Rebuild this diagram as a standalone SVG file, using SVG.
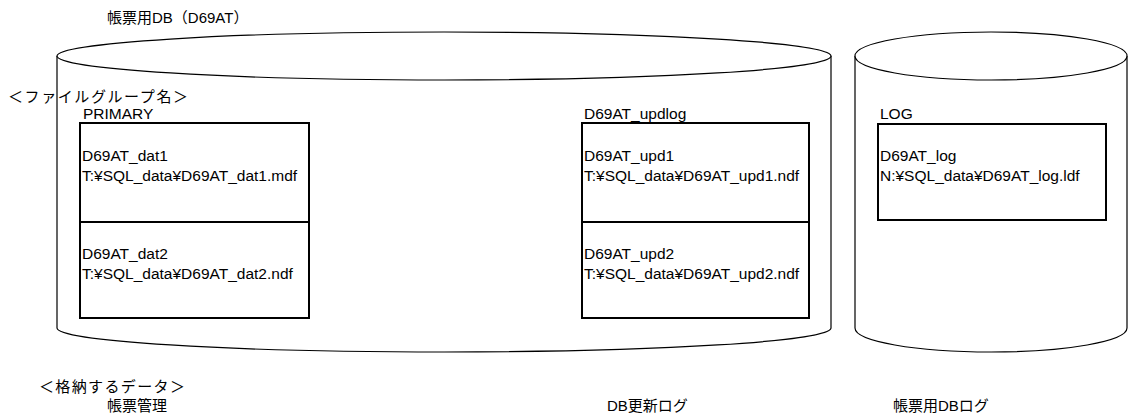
<svg xmlns="http://www.w3.org/2000/svg" width="1128" height="418" viewBox="0 0 1128 418">
<style>
text{font-family:"Liberation Sans","Noto Sans CJK JP",sans-serif;font-size:15.5px;fill:#000}
.jp{font-size:15px}
.cyl{fill:#fff;stroke:#000;stroke-width:1.2}
.box{fill:#fff;stroke:#000;stroke-width:2}
</style>
<rect width="1128" height="418" fill="#fff"/>
<g id="db-main">
<path class="cyl" d="M57,56 L57,328 A387,24 0 0 0 831,328 L831,56"/>
<ellipse class="cyl" cx="444" cy="56" rx="387" ry="24"/>
<text class="jp" x="107" y="23">帳票用DB（D69AT）</text>
</g>
<g id="db-log">
<path class="cyl" d="M855,56 L855,328 A136,24 0 0 0 1127,328 L1127,56"/>
<ellipse class="cyl" cx="991" cy="56" rx="136" ry="24"/>
</g>
<g id="labels">
<text class="jp" x="8" y="102" textLength="180" lengthAdjust="spacing">＜ファイルグループ名＞</text>
<text class="jp" x="39" y="392" textLength="146" lengthAdjust="spacing">＜格納するデータ＞</text>
<text class="jp" x="107" y="411">帳票管理</text>
<text class="jp" x="607" y="411">DB更新ログ</text>
<text class="jp" x="893" y="411">帳票用DBログ</text>
</g>
<g id="fg-primary">
<text x="83" y="119">PRIMARY</text>
<rect class="box" x="80" y="123" width="229" height="99"/>
<rect class="box" x="80" y="222" width="229" height="96"/>
<text x="82" y="161">D69AT_dat1</text>
<text x="82" y="181">T:¥SQL_data¥D69AT_dat1.mdf</text>
<text x="82" y="259">D69AT_dat2</text>
<text x="82" y="279">T:¥SQL_data¥D69AT_dat2.ndf</text>
</g>
<g id="fg-updlog">
<text x="584" y="119">D69AT_updlog</text>
<rect class="box" x="582" y="123" width="227" height="99"/>
<rect class="box" x="582" y="222" width="227" height="96"/>
<text x="584" y="161">D69AT_upd1</text>
<text x="584" y="181">T:¥SQL_data¥D69AT_upd1.ndf</text>
<text x="584" y="259">D69AT_upd2</text>
<text x="584" y="279">T:¥SQL_data¥D69AT_upd2.ndf</text>
</g>
<g id="fg-log">
<text x="880" y="119">LOG</text>
<rect class="box" x="878" y="124" width="228" height="96"/>
<text x="880" y="161">D69AT_log</text>
<text x="880" y="181">N:¥SQL_data¥D69AT_log.ldf</text>
</g>
<g id="connectors"/>
</svg>
